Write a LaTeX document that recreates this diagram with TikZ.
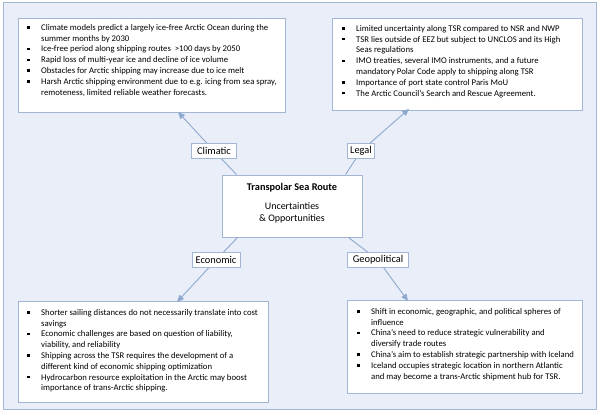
\documentclass[tikz,border=0pt]{standalone}
\usepackage{fontspec}
\setmainfont{Carlito}
\usetikzlibrary{arrows.meta}
\definecolor{bgblue}{HTML}{E9EEF8}
\definecolor{frameblue}{HTML}{A3B7D5}
\definecolor{lineblue}{HTML}{8EA8CF}
\newcommand\bul{\makebox[14pt][l]{\raisebox{1.7pt}{\rule{2.4pt}{2.4pt}}}}
\newcommand\itm{\par\noindent\hangindent=14pt\hangafter=1\bul}
\tikzset{
  frame/.style={draw=frameblue, line width=0.9pt, fill=bgblue},
  box/.style={draw=frameblue, line width=0.9pt, fill=white, inner sep=0pt, anchor=north west},
  lbl/.style={draw=frameblue, line width=0.9pt, fill=white, inner sep=0pt, minimum height=15pt, font=\fontsize{10.4}{12}\selectfont},
  txt/.style={anchor=north west, inner sep=0pt, align=left, font=\fontsize{8.7}{10.8}\selectfont},
  conn/.style={draw=lineblue, line width=0.9pt},
  arr/.style={conn, -{Triangle[length=7pt,width=6pt]}}
}
\begin{document}
\begin{tikzpicture}[x=1pt,y=-1pt]
\useasboundingbox (0,0) rectangle (601,414);
\node[frame, minimum width=593pt, minimum height=407pt, anchor=north west, inner sep=0pt] (outer) at (3,2) {};
% boxes
\node[box, minimum width=267pt, minimum height=94pt] (cbox) at (18,18) {};
\node[box, minimum width=250pt, minimum height=92pt] (lbox) at (332,18) {};
\node[box, minimum width=250pt, minimum height=101pt] (ebox) at (18,301) {};
\node[box, minimum width=235pt, minimum height=93pt] (gbox) at (347,300) {};
% texts
\node[txt] (ctext) at (27,24) {\parbox[t]{258pt}{%
\itm Climate models predict a largely ice-free Arctic Ocean during the\newline summer months by 2030
\itm Ice-free period along shipping routes\ \ >100 days by 2050
\itm Rapid loss of multi-year ice and decline of ice volume
\itm Obstacles for Arctic shipping may increase due to ice melt
\itm Harsh Arctic shipping environment due to e.g. icing from sea spray,\newline remoteness, limited reliable weather forecasts.}};
\node[txt] (ltext) at (342,25) {\parbox[t]{240pt}{%
\itm Limited uncertainty along TSR compared to NSR and NWP
\itm TSR lies outside of EEZ but subject to UNCLOS and its High\newline Seas regulations
\itm IMO treaties, several IMO instruments, and a future\newline mandatory Polar Code apply to shipping along TSR
\itm Importance of port state control Paris MoU
\itm The Arctic Council's Search and Rescue Agreement.}};
\node[txt] (etext) at (27,309) {\parbox[t]{240pt}{%
\itm Shorter sailing distances do not necessarily translate into cost\newline savings
\itm Economic challenges are based on question of liability,\newline viability, and reliability
\itm Shipping across the TSR requires the development of a\newline different kind of economic shipping optimization
\itm Hydrocarbon resource exploitation in the Arctic may boost\newline importance of trans-Arctic shipping.}};
\node[txt] (gtext) at (357,308) {\parbox[t]{225pt}{%
\itm Shift in economic, geographic, and political spheres of\newline influence
\itm China's need to reduce strategic vulnerability and\newline diversify trade routes
\itm China's aim to establish strategic partnership with Iceland
\itm Iceland occupies strategic location in northern Atlantic\newline and may become a trans-Arctic shipment hub for TSR.}};
% center
\node[box, anchor=center, minimum width=140pt, minimum height=62pt] (center) at (292,206) {};
\node[anchor=center, inner sep=0pt, font=\fontsize{10.3}{12}\selectfont\bfseries] (title) at (292,188) {Transpolar Sea Route};
\node[anchor=center, inner sep=0pt, align=center, font=\fontsize{10}{12.5}\selectfont] (sub) at (292,213) {Uncertainties\\\& Opportunities};
% connectors
\draw[conn] ([xshift=15pt]center.north west) -- (214,151);
\draw[conn] ([xshift=-17pt]center.north east) -- (361,151);
\draw[conn] ([xshift=16pt]center.south west) -- (216,260);
\draw[conn] ([xshift=-14pt]center.south east) -- (378,260);
\draw[arr] (214,151) -- ([xshift=160pt,yshift=1pt]cbox.south west);
\draw[arr] (361,151) -- ([xshift=77pt,yshift=2pt]lbox.south west);
\draw[arr] (216,260) -- ([xshift=159pt,yshift=-1pt]ebox.north west);
\draw[arr] (378,260) -- ([xshift=61pt,yshift=-1pt]gbox.north west);
% labels
\node[lbl, minimum width=45pt] (clim) at (214,151) {Climatic};
\node[lbl, minimum width=27pt] (legal) at (361,151) {Legal};
\node[lbl, minimum width=48pt] (econ) at (216,260) {Economic};
\node[lbl, minimum width=61pt] (geo) at (378,260) {Geopolitical};
\end{tikzpicture}
\end{document}
